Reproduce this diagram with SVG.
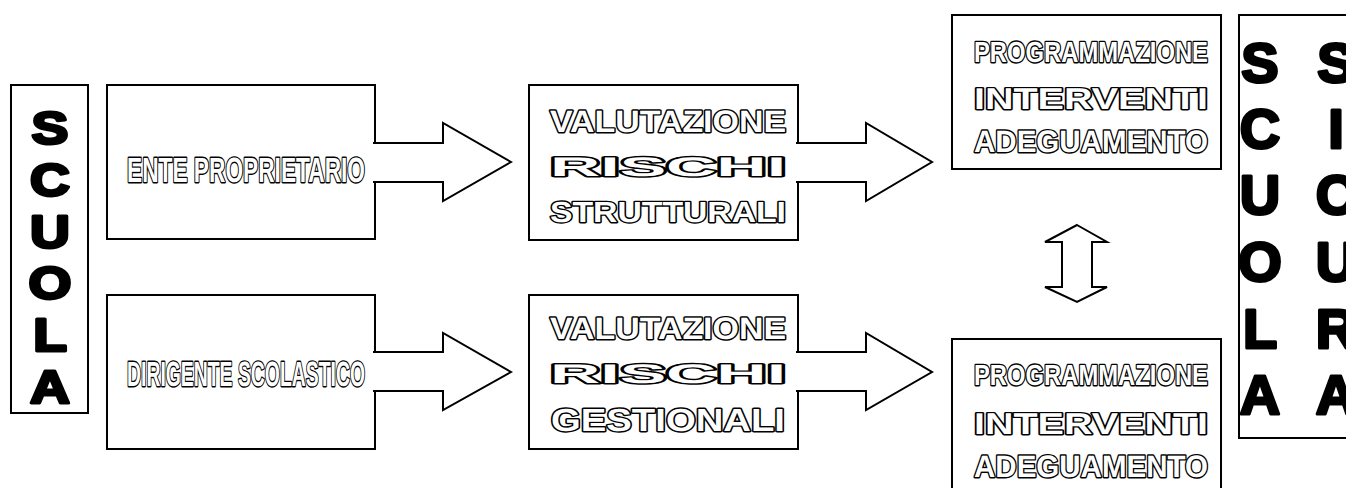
<svg xmlns="http://www.w3.org/2000/svg" width="1346" height="488" viewBox="0 0 1346 488">
<style>
.box{fill:#fff;stroke:#000;stroke-width:2}
.arrow{fill:#fff;stroke:#000;stroke-width:2;stroke-linejoin:miter}
.ol{font-family:"Liberation Sans",Arial,sans-serif;font-weight:bold;fill:#fff;stroke:#000;stroke-width:2.8;stroke-linejoin:round;paint-order:stroke;text-anchor:middle;text-rendering:geometricPrecision}
.big{font-family:"Liberation Sans",Arial,sans-serif;font-weight:bold;fill:#000;stroke:#000;stroke-width:3;stroke-linejoin:round;text-anchor:middle}
</style>
<rect width="1346" height="488" fill="#fff"/>
<g id="scuola">
<rect class="box" x="11" y="85" width="77" height="328"/>
<g class="big" font-size="46">
<text transform="translate(50,144) scale(1.2,1)">S</text>
<text transform="translate(50,196) scale(1.2,1)">C</text>
<text transform="translate(50,248) scale(1.2,1)">U</text>
<text transform="translate(50,299) scale(1.2,1)">O</text>
<text transform="translate(50,351) scale(1.2,1)">L</text>
<text transform="translate(50,403) scale(1.2,1)">A</text>
</g>
</g>
<g id="ente">
<rect class="box" x="107" y="85" width="268" height="154"/>
<text class="ol" x="246" y="182" font-size="35" textLength="238" lengthAdjust="spacingAndGlyphs">ENTE PROPRIETARIO</text>
</g>
<g id="dirigente">
<rect class="box" x="107" y="295" width="268" height="154"/>
<text class="ol" x="246" y="386" font-size="35" textLength="238" lengthAdjust="spacingAndGlyphs">DIRIGENTE SCOLASTICO</text>
</g>
<g id="val-strutturali">
<rect class="box" x="529" y="85" width="269" height="155"/>
<text class="ol" x="668" y="132" font-size="31" textLength="236" lengthAdjust="spacingAndGlyphs">VALUTAZIONE</text>
<text class="ol" x="668" y="176" font-size="27" textLength="236" lengthAdjust="spacingAndGlyphs">RISCHI</text>
<text class="ol" x="668" y="222" font-size="29" textLength="236" lengthAdjust="spacingAndGlyphs">STRUTTURALI</text>
</g>
<g id="val-gestionali">
<rect class="box" x="529" y="295" width="269" height="154"/>
<text class="ol" x="668" y="339" font-size="31" textLength="236" lengthAdjust="spacingAndGlyphs">VALUTAZIONE</text>
<text class="ol" x="668" y="383" font-size="27" textLength="236" lengthAdjust="spacingAndGlyphs">RISCHI</text>
<text class="ol" x="668" y="431" font-size="32" textLength="234" lengthAdjust="spacingAndGlyphs">GESTIONALI</text>
</g>
<g id="prog-top">
<rect class="box" x="952" y="15" width="269" height="154"/>
<text class="ol" x="1091" y="62" font-size="29" textLength="234" lengthAdjust="spacingAndGlyphs">PROGRAMMAZIONE</text>
<text class="ol" x="1091" y="109" font-size="30" textLength="234" lengthAdjust="spacingAndGlyphs">INTERVENTI</text>
<text class="ol" x="1091" y="152" font-size="31" textLength="234" lengthAdjust="spacingAndGlyphs">ADEGUAMENTO</text>
</g>
<g id="prog-bottom">
<rect class="box" x="952" y="339" width="269" height="170"/>
<text class="ol" x="1091" y="385" font-size="29" textLength="234" lengthAdjust="spacingAndGlyphs">PROGRAMMAZIONE</text>
<text class="ol" x="1091" y="434" font-size="30" textLength="234" lengthAdjust="spacingAndGlyphs">INTERVENTI</text>
<text class="ol" x="1091" y="477" font-size="31" textLength="234" lengthAdjust="spacingAndGlyphs">ADEGUAMENTO</text>
</g>
<g id="scuola-sicura">
<rect class="box" x="1239" y="15" width="130" height="423"/>
<g class="big" font-size="56">
<text x="1260" y="82">S</text>
<text x="1260" y="148">C</text>
<text x="1260" y="214">U</text>
<text x="1260" y="281">O</text>
<text x="1260" y="348">L</text>
<text x="1260" y="414">A</text>
<text x="1336" y="82">S</text>
<text x="1336" y="148">I</text>
<text x="1336" y="214">C</text>
<text x="1336" y="281">U</text>
<text x="1336" y="348">R</text>
<text x="1336" y="414">A</text>
</g>
</g>
<g id="connectors">
<path class="arrow" d="M373,143 H443 V123 L511,162 L443,201 V182 H373"/>
<path class="arrow" d="M373,352 H443 V333 L511,372 L443,410 V391 H373"/>
<path class="arrow" d="M796,143 H866 V123 L932,162 L866,201 V182 H796"/>
<path class="arrow" d="M796,352 H866 V333 L932,372 L866,410 V391 H796"/>
<polygon class="arrow" stroke-width="1.5" points="1077,225 1107,242 1092,242 1092,287 1107,287 1077,302 1045,287 1062,287 1062,242 1045,242"/>
</g>
</svg>
